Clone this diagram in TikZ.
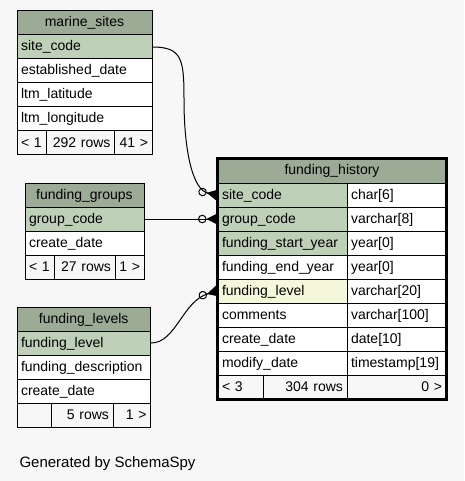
\documentclass[tikz,border=0pt]{standalone}
\usepackage{fontspec}
\setmainfont{Liberation Sans}
\usepackage{tikz}
\usetikzlibrary{arrows.meta}

\definecolor{bgcol}{HTML}{F7F7F7}
\definecolor{hdrcol}{HTML}{9BAB96}
\definecolor{pkcol}{HTML}{BED1B8}
\definecolor{idxcol}{HTML}{F4F7DA}

\begin{document}
\begin{tikzpicture}[x=1pt, y=-1pt,
	every node/.style={font=\fontsize{14}{16}\selectfont},
	cell/.style={draw, line width=1pt, fill=white, inner xsep=4pt, inner ysep=0pt,
		minimum height=24pt, text height=11pt, text depth=3pt,
		anchor=north west, align=left, text width=#1},
	hdr/.style={fill=hdrcol, align=center},
	foot/.style={fill=bgcol},
	fk/.style={line width=1pt, -{Circle[open, length=8.5pt, width=8.5pt] Triangle[reversed, length=11pt, width=11pt]}}
]
\path[use as bounding box, fill=bgcol] (0,0) rectangle (464,481);

% marine_sites
\node[cell=127pt, hdr] (ms) at (16.5,10.5) {marine\_sites};
\foreach \t/\f [count=\i] in {site\_code/pkcol, established\_date/white, ltm\_latitude/white, ltm\_longitude/white}
	\node[cell=127pt, fill=\f] (ms-\i) at (16.5,10.5+24*\i) {\t};
\node[cell=21pt, foot] (ms-f1) at (16.5,130.5) {< 1};
\node[cell=60.5pt, foot, align=right] (ms-f2) at (45.5,130.5) {292 rows};
\node[cell=29.5pt, foot, align=right] (ms-f3) at (114,130.5) {41 >};

% funding_groups
\node[cell=111pt, hdr] (fg) at (24.5,182.5) {funding\_groups};
\foreach \t/\f [count=\i] in {group\_code/pkcol, create\_date/white}
	\node[cell=111pt, fill=\f] (fg-\i) at (24.5,182.5+24*\i) {\t};
\node[cell=21pt, foot] (fg-f1) at (24.5,254.5) {< 1};
\node[cell=53pt, foot, align=right] (fg-f2) at (53.5,254.5) {27 rows};
\node[cell=21pt, foot, align=right] (fg-f3) at (114.5,254.5) {1 >};

% funding_levels
\node[cell=125.5pt, hdr] (fl) at (16.5,306.5) {funding\_levels};
\foreach \t/\f [count=\i] in {funding\_level/pkcol, funding\_description/white, create\_date/white}
	\node[cell=125.5pt, fill=\f] (fl-\i) at (16.5,306.5+24*\i) {\t};
\node[cell=26.5pt, foot] (fl-f1) at (16.5,402.5) {};
\node[cell=53.5pt, foot, align=right] (fl-f2) at (51,402.5) {5 rows};
\node[cell=29.5pt, foot, align=right] (fl-f3) at (112.5,402.5) {1 >};

% funding_history
\node[cell=220pt, hdr] (fh) at (217.5,158.5) {funding\_history};
\foreach \t/\ty/\f [count=\i] in {site\_code/char[6]/pkcol, group\_code/varchar[8]/pkcol,
	funding\_start\_year/year[0]/pkcol, funding\_end\_year/year[0]/white,
	funding\_level/varchar[20]/idxcol, comments/varchar[100]/white,
	create\_date/date[10]/white, modify\_date/timestamp[19]/white}
{
	\node[cell=121pt, fill=\f] (fh-\i) at (217.5,158.5+24*\i) {\t};
	\node[cell=91pt] (fh-\i t) at (346.5,158.5+24*\i) {\ty};
}
\node[cell=37pt, foot] (fh-f1) at (217.5,374.5) {< 3};
\node[cell=76pt, foot, align=right] (fh-f2) at (262.5,374.5) {304 rows};
\node[cell=91pt, foot, align=right] (fh-f3) at (346.5,374.5) {0 >};
\draw[line width=3pt] (fh.north west) rectangle (fh-f3.south east);

% foreign keys
\draw[fk] (ms-1.east) .. controls +(30,0) and +(0,-40) .. (184,100)
	.. controls +(0,50) and +(-25,-5) .. (fh-1.west);
\draw[fk] (fg-1.east) -- (fh-2.west);
\draw[fk] (fl-1.east) .. controls +(25,0) and +(-35,10) .. (fh-5.west);

\node[anchor=base west, font=\fontsize{15}{17}\selectfont] (gen) at (16,467) {Generated by SchemaSpy};
\end{tikzpicture}
\end{document}
